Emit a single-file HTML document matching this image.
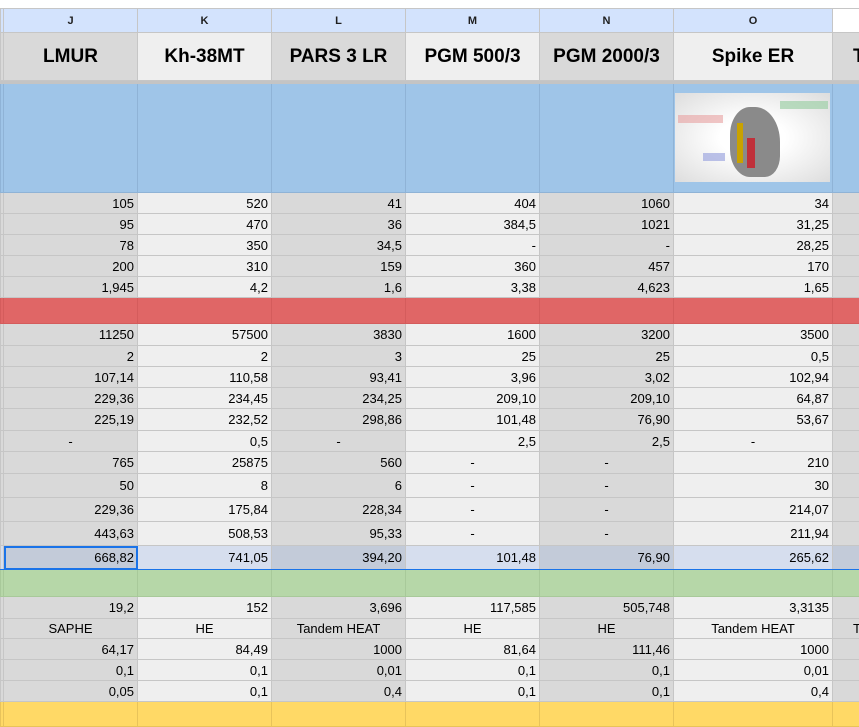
<!DOCTYPE html>
<html><head><meta charset="utf-8">
<style>
body{margin:0;width:859px;height:726px;overflow:hidden;background:#fff;font-family:"Liberation Sans",Arial,sans-serif;}
table{position:absolute;left:0;top:8px;border-collapse:collapse;table-layout:fixed;width:886px;}
td{border:1px solid #c6c6c6;padding:0 3px;font-size:13px;color:#000;text-align:right;white-space:nowrap;overflow:hidden;background:#efefef;box-sizing:border-box;}
td.g{padding:0}
tr td:nth-child(2n){background:#d9d9d9}
tr td:nth-child(1){background:#d9d9d9}
tr.let td{background:#d3e3fd;font-size:11px;font-weight:bold;text-align:center;color:#1f1f1f}
tr.let td:nth-child(8){background:#fff}
tr.tit td{font-size:19px;font-weight:bold;text-align:center}
tr.sep td{background:#c4c4c4;border-color:#c4c4c4}
tr.blue td{background:#9fc5e8;border-color:#8fb3d6}
tr.red td{background:#e06666;border-color:#d45c5c}
tr.green td{background:#b6d7a8;border-color:#a8c99a}
tr.yel td{background:#ffd966;border-color:#e8c35a}
tr.sel td{background:#d6deee;border-top:1px solid #1a73e8;border-bottom:1px solid #1a73e8}
tr.sel td:nth-child(2n){background:#c3cbd9}
tr.sel td:nth-child(2){outline:2px solid #1a73e8;outline-offset:-2px}
td.c{text-align:center}
</style></head><body>
<table>
<colgroup><col style="width:3px"><col style="width:134px"><col style="width:134px"><col style="width:134px"><col style="width:134px"><col style="width:134px"><col style="width:159px"><col style="width:54px"></colgroup>
<tr class="let" style="height:24px"><td class="g"></td><td>J</td><td>K</td><td>L</td><td>M</td><td>N</td><td>O</td><td></td></tr>
<tr class="tit" style="height:48px"><td class="g"></td><td>LMUR</td><td>Kh-38MT</td><td>PARS 3 LR</td><td>PGM 500/3</td><td>PGM 2000/3</td><td>Spike ER</td><td style="text-align:left;padding-left:20px">T</td></tr>
<tr class="sep" style="height:3px"><td class="g"></td><td></td><td></td><td></td><td></td><td></td><td></td><td></td></tr>
<tr class="blue" style="height:109px"><td class="g"></td><td></td><td></td><td></td><td></td><td></td><td style="padding:0;position:relative">
<div style="position:absolute;left:1px;top:9px;width:155px;height:89px;background:radial-gradient(ellipse at 50% 50%,#fff 30%,#ddd 100%)">
<div style="position:absolute;left:55px;top:14px;width:50px;height:70px;background:#8a8a8a;border-radius:40% 50% 30% 40%"></div>
<div style="position:absolute;left:62px;top:30px;width:6px;height:40px;background:#c9a200"></div>
<div style="position:absolute;left:72px;top:45px;width:8px;height:30px;background:#c0303a"></div>
<div style="position:absolute;left:3px;top:22px;width:45px;height:8px;background:#e7a0a0;opacity:.6"></div>
<div style="position:absolute;left:105px;top:8px;width:48px;height:8px;background:#9fd0a8;opacity:.7"></div>
<div style="position:absolute;left:28px;top:60px;width:22px;height:8px;background:#9fa8e0;opacity:.7"></div>
</div></td><td></td></tr>
<tr style="height:21px"><td class="g"></td><td>105</td><td>520</td><td>41</td><td>404</td><td>1060</td><td>34</td><td></td></tr>
<tr style="height:21px"><td class="g"></td><td>95</td><td>470</td><td>36</td><td>384,5</td><td>1021</td><td>31,25</td><td></td></tr>
<tr style="height:21px"><td class="g"></td><td>78</td><td>350</td><td>34,5</td><td>-</td><td>-</td><td>28,25</td><td></td></tr>
<tr style="height:21px"><td class="g"></td><td>200</td><td>310</td><td>159</td><td>360</td><td>457</td><td>170</td><td></td></tr>
<tr style="height:21px"><td class="g"></td><td>1,945</td><td>4,2</td><td>1,6</td><td>3,38</td><td>4,623</td><td>1,65</td><td></td></tr>
<tr class="red" style="height:26px"><td class="g"></td><td></td><td></td><td></td><td></td><td></td><td></td><td></td></tr>
<tr style="height:22px"><td class="g"></td><td>11250</td><td>57500</td><td>3830</td><td>1600</td><td>3200</td><td>3500</td><td></td></tr>
<tr style="height:21px"><td class="g"></td><td>2</td><td>2</td><td>3</td><td>25</td><td>25</td><td>0,5</td><td></td></tr>
<tr style="height:21px"><td class="g"></td><td>107,14</td><td>110,58</td><td>93,41</td><td>3,96</td><td>3,02</td><td>102,94</td><td></td></tr>
<tr style="height:21px"><td class="g"></td><td>229,36</td><td>234,45</td><td>234,25</td><td>209,10</td><td>209,10</td><td>64,87</td><td></td></tr>
<tr style="height:22px"><td class="g"></td><td>225,19</td><td>232,52</td><td>298,86</td><td>101,48</td><td>76,90</td><td>53,67</td><td></td></tr>
<tr style="height:21px"><td class="g"></td><td class="c">-</td><td>0,5</td><td class="c">-</td><td>2,5</td><td>2,5</td><td class="c">-</td><td></td></tr>
<tr style="height:22px"><td class="g"></td><td>765</td><td>25875</td><td>560</td><td class="c">-</td><td class="c">-</td><td>210</td><td></td></tr>
<tr style="height:24px"><td class="g"></td><td>50</td><td>8</td><td>6</td><td class="c">-</td><td class="c">-</td><td>30</td><td></td></tr>
<tr style="height:24px"><td class="g"></td><td>229,36</td><td>175,84</td><td>228,34</td><td class="c">-</td><td class="c">-</td><td>214,07</td><td></td></tr>
<tr style="height:24px"><td class="g"></td><td>443,63</td><td>508,53</td><td>95,33</td><td class="c">-</td><td class="c">-</td><td>211,94</td><td></td></tr>
<tr class="sel" style="height:24px"><td class="g"></td><td>668,82</td><td>741,05</td><td>394,20</td><td>101,48</td><td>76,90</td><td>265,62</td><td></td></tr>
<tr class="green" style="height:27px"><td class="g"></td><td></td><td></td><td></td><td></td><td></td><td></td><td></td></tr>
<tr style="height:22px"><td class="g"></td><td>19,2</td><td>152</td><td>3,696</td><td>117,585</td><td>505,748</td><td>3,3135</td><td></td></tr>
<tr style="height:20px"><td class="g"></td><td class="c">SAPHE</td><td class="c">HE</td><td class="c">Tandem HEAT</td><td class="c">HE</td><td class="c">HE</td><td class="c">Tandem HEAT</td><td style="text-align:left;padding-left:20px">T</td></tr>
<tr style="height:21px"><td class="g"></td><td>64,17</td><td>84,49</td><td>1000</td><td>81,64</td><td>111,46</td><td>1000</td><td></td></tr>
<tr style="height:21px"><td class="g"></td><td>0,1</td><td>0,1</td><td>0,01</td><td>0,1</td><td>0,1</td><td>0,01</td><td></td></tr>
<tr style="height:21px"><td class="g"></td><td>0,05</td><td>0,1</td><td>0,4</td><td>0,1</td><td>0,1</td><td>0,4</td><td></td></tr>
<tr class="yel" style="height:25px"><td class="g"></td><td></td><td></td><td></td><td></td><td></td><td></td><td></td></tr>
</table>
</body></html>
